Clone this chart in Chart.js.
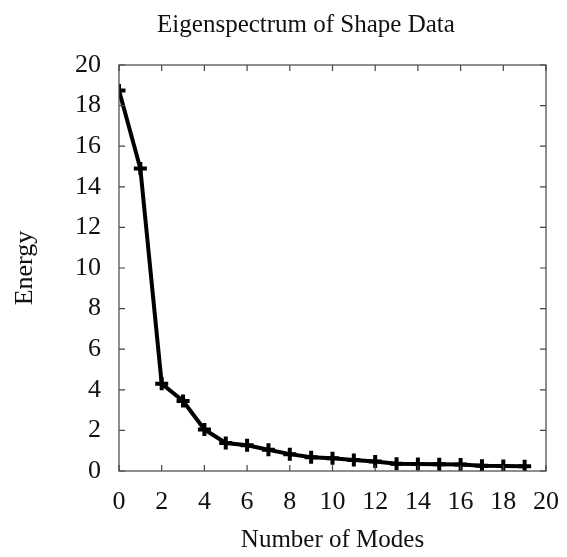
<!DOCTYPE html>
<html>
<head>
<meta charset="utf-8">
<script src="https://cdn.jsdelivr.net/npm/chart.js@4/dist/chart.umd.min.js"></script>
<style>
  html, body { margin: 0; padding: 0; background: #fff; }
  #wrap { width: 567px; height: 557px; }
</style>
</head>
<body>
<div id="wrap"><canvas id="eigenChart" width="567" height="557"></canvas></div>
<script>
  // data
  const modes = [0, 1, 2, 3, 4, 5, 6, 7, 8, 9, 10, 11, 12, 13, 14, 15, 16, 17, 18, 19];
  const energy = [18.75, 14.9, 4.3, 3.45, 2.05, 1.38, 1.27, 1.05, 0.83, 0.68, 0.63, 0.54, 0.47, 0.36, 0.35, 0.33, 0.32, 0.26, 0.25, 0.24];
  const xTicks = [0, 2, 4, 6, 8, 10, 12, 14, 16, 18, 20];
  const yTicks = [0, 2, 4, 6, 8, 10, 12, 14, 16, 18, 20];

  const serif = '"Liberation Serif", "DejaVu Serif", serif';
  const axisGray = '#444';

  // frame + inward tick marks on all four sides
  const frameTicks = {
    id: 'frameTicks',
    afterDraw(chart) {
      const { ctx, chartArea: a, scales } = chart;
      ctx.save();
      ctx.strokeStyle = axisGray;
      ctx.lineWidth = 1.2;
      ctx.strokeRect(a.left, a.top, a.right - a.left, a.bottom - a.top);
      const len = 6;
      ctx.beginPath();
      xTicks.forEach(v => {
        const px = scales.x.getPixelForValue(v);
        ctx.moveTo(px, a.bottom); ctx.lineTo(px, a.bottom - len);
        ctx.moveTo(px, a.top); ctx.lineTo(px, a.top + len);
      });
      yTicks.forEach(v => {
        const py = scales.y.getPixelForValue(v);
        ctx.moveTo(a.left, py); ctx.lineTo(a.left + len, py);
        ctx.moveTo(a.right, py); ctx.lineTo(a.right - len, py);
      });
      ctx.stroke();
      ctx.restore();
    }
  };

  // title sits a bit left of the plot centre, like the original
  const plotTitle = {
    id: 'plotTitle',
    afterDraw(chart) {
      const ctx = chart.ctx;
      ctx.save();
      ctx.fillStyle = '#111';
      ctx.font = '25px ' + serif;
      ctx.textAlign = 'center';
      ctx.textBaseline = 'middle';
      ctx.fillText('Eigenspectrum of Shape Data', 306, 25);
      ctx.restore();
    }
  };

  const ctx = document.getElementById('eigenChart').getContext('2d');
  new Chart(ctx, {
    type: 'line',
    data: {
      datasets: [{
        data: modes.map((m, i) => ({ x: m, y: energy[i] })),
        borderColor: '#000',
        borderWidth: 4,
        pointStyle: 'cross',
        pointRadius: 6.5,
        pointBorderWidth: 4,
        pointBorderColor: '#000',
        tension: 0,
        fill: false
      }]
    },
    options: {
      responsive: false,
      animation: false,
      layout: { padding: { left: 0, top: 65, right: 0, bottom: 0 } },
      plugins: {
        legend: { display: false },
        tooltip: { enabled: false }
      },
      scales: {
        x: {
          type: 'linear',
          min: 0,
          max: 20,
          afterBuildTicks: s => { s.ticks = xTicks.map(v => ({ value: v })); },
          afterFit: s => { s.height = 86; s.paddingRight = 21; },
          grid: { display: false, drawTicks: false },
          border: { display: false },
          ticks: { color: '#111', font: { family: serif, size: 26 }, padding: 16, maxRotation: 0 },
          title: {
            display: true,
            text: 'Number of Modes',
            color: '#111',
            font: { family: serif, size: 25 },
            padding: { top: 0, bottom: 2 }
          }
        },
        y: {
          min: 0,
          max: 20,
          afterBuildTicks: s => { s.ticks = yTicks.map(v => ({ value: v })); },
          afterFit: s => { s.width = 119; },
          grid: { display: false, drawTicks: false },
          border: { display: false },
          ticks: { color: '#111', font: { family: serif, size: 26 }, padding: 18 },
          title: {
            display: true,
            text: 'Energy',
            color: '#111',
            font: { family: serif, size: 26 },
            padding: { top: 10, bottom: 0 }
          }
        }
      }
    },
    plugins: [frameTicks, plotTitle]
  });
</script>
</body>
</html>
